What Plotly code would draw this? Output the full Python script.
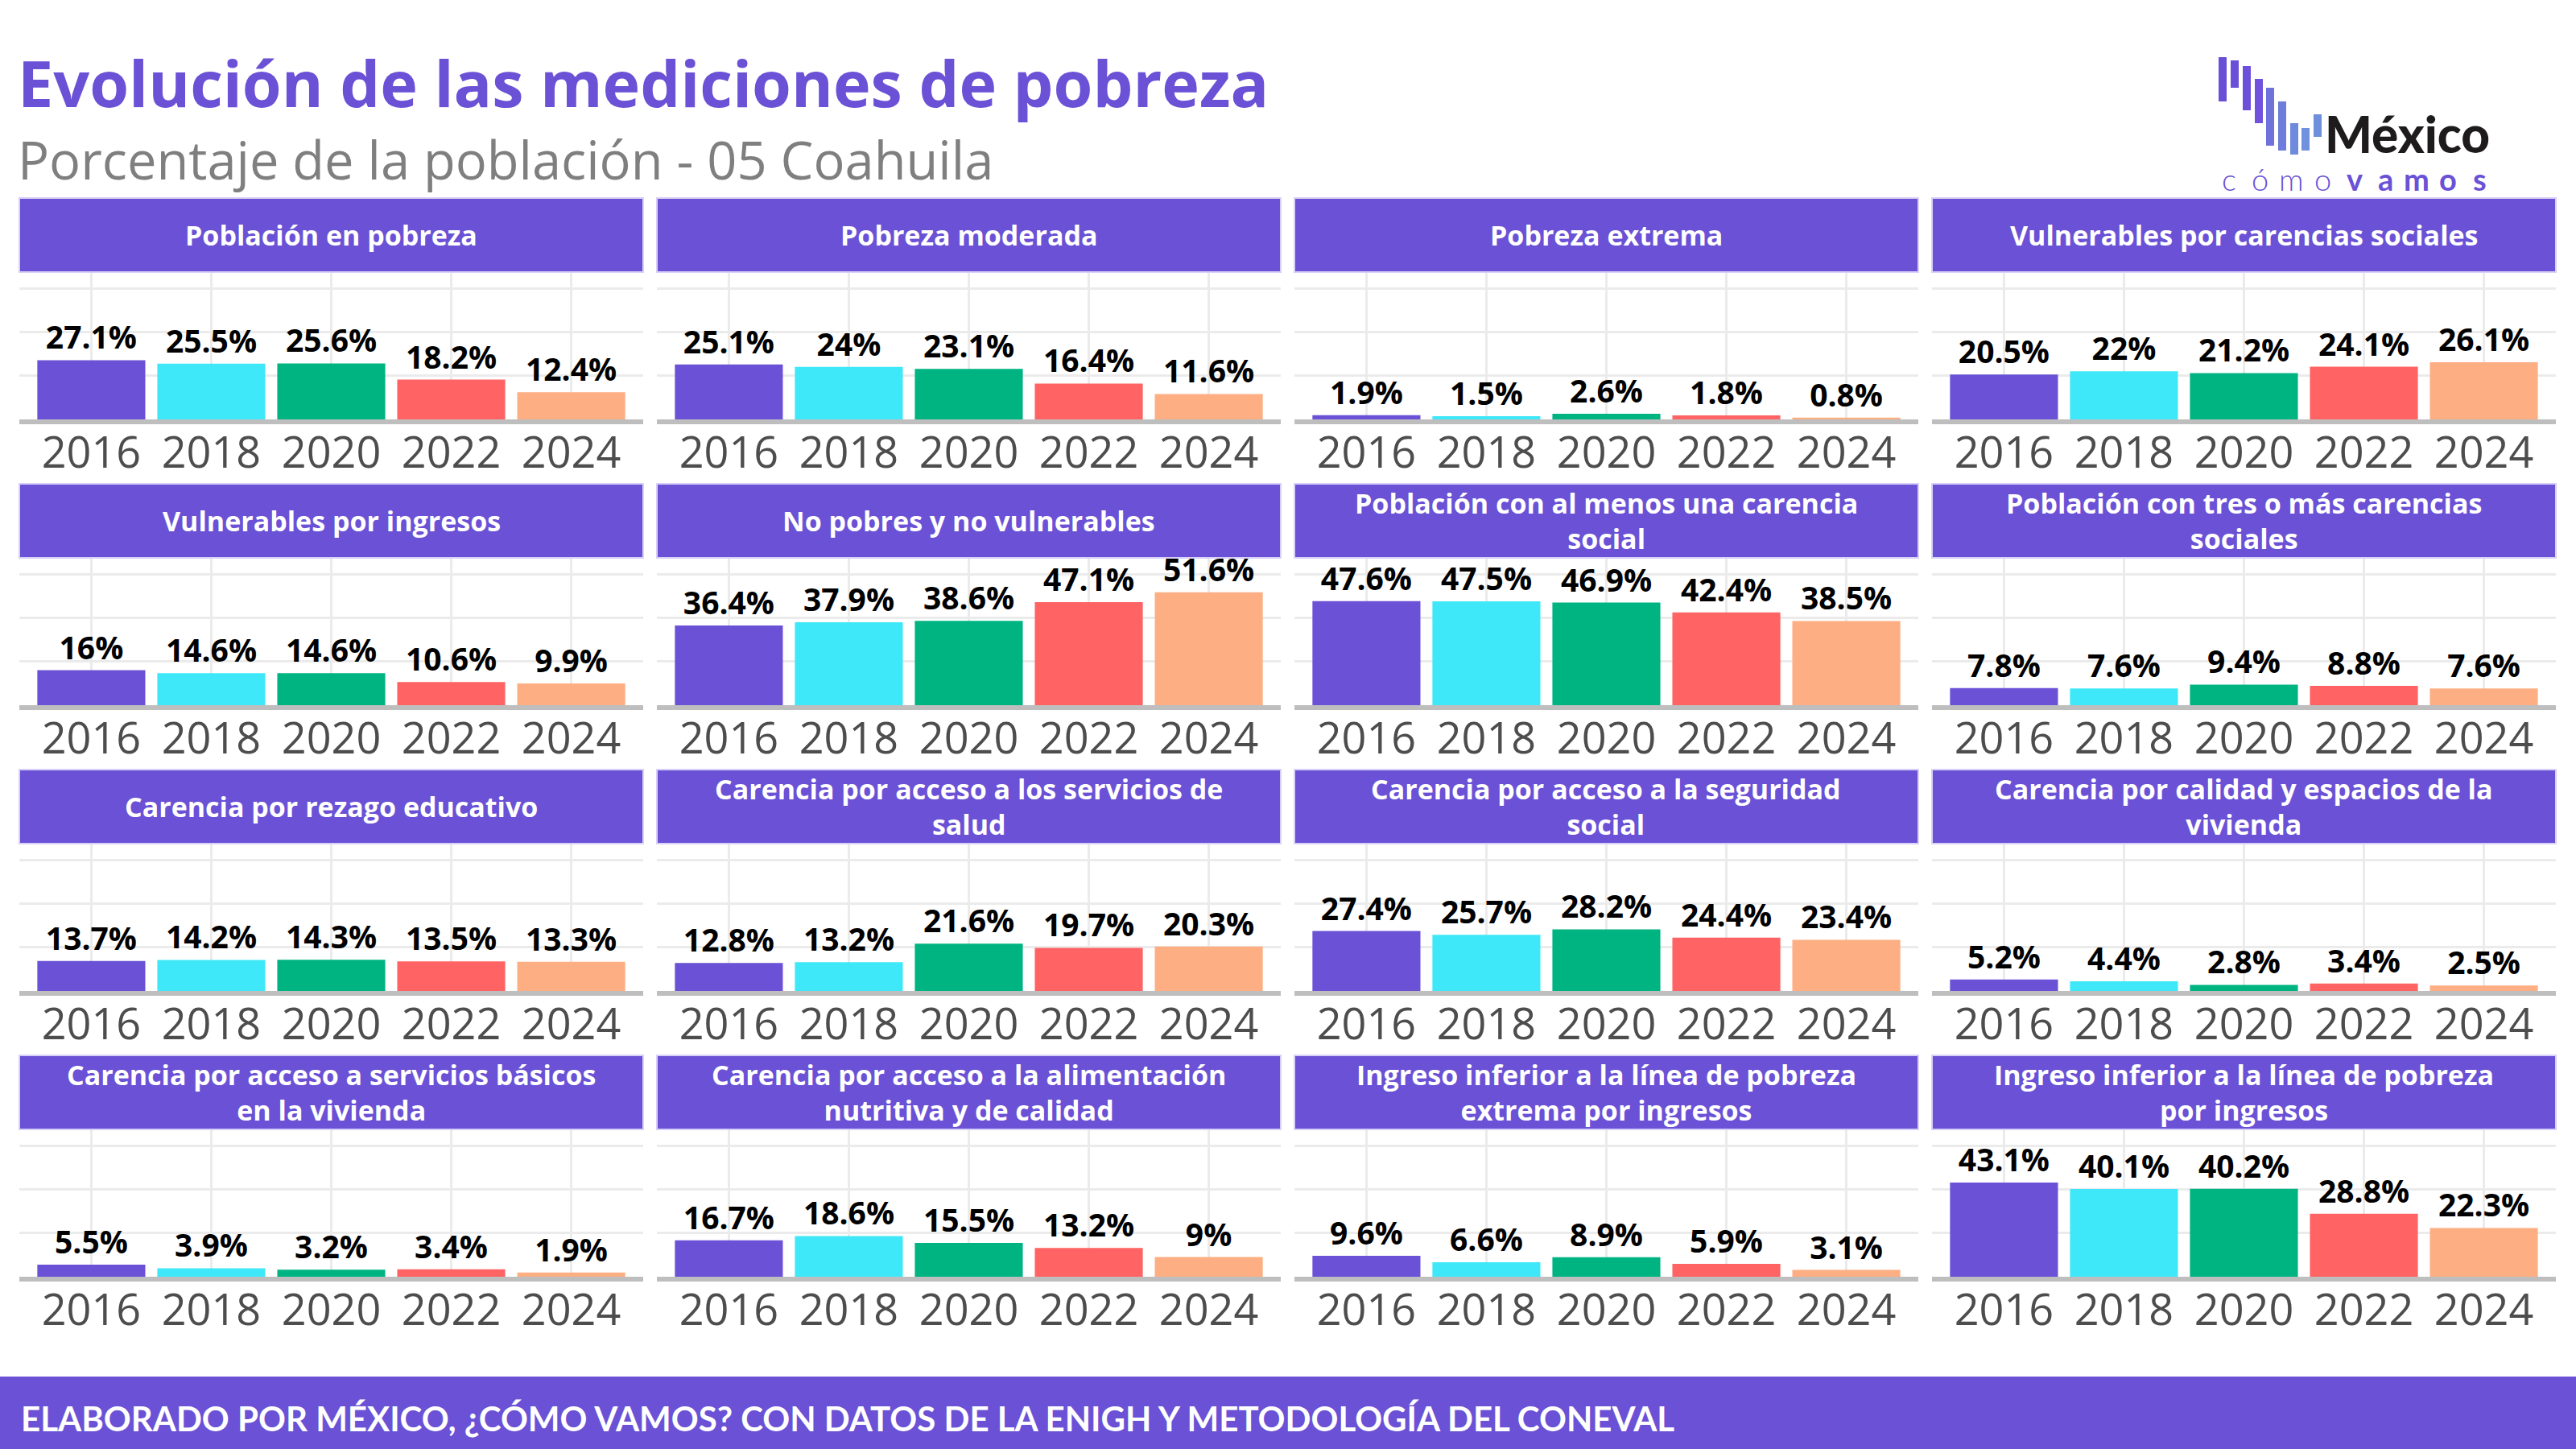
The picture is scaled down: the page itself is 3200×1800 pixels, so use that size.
import plotly.graph_objects as go

# ---------------- data ----------------
years = ["2016", "2018", "2020", "2022", "2024"]
titles = [
    "Población en pobreza",
    "Pobreza moderada",
    "Pobreza extrema",
    "Vulnerables por carencias sociales",
    "Vulnerables por ingresos",
    "No pobres y no vulnerables",
    "Población con al menos una carencia<br>social",
    "Población con tres o más carencias<br>sociales",
    "Carencia por rezago educativo",
    "Carencia por acceso a los servicios de<br>salud",
    "Carencia por acceso a la seguridad<br>social",
    "Carencia por calidad y espacios de la<br>vivienda",
    "Carencia por acceso a servicios básicos<br>en la vivienda",
    "Carencia por acceso a la alimentación<br>nutritiva y de calidad",
    "Ingreso inferior a la línea de pobreza<br>extrema por ingresos",
    "Ingreso inferior a la línea de pobreza<br>por ingresos",
]
poblacion_pobreza = [27.1, 25.5, 25.6, 18.2, 12.4]
pobreza_moderada = [25.1, 24, 23.1, 16.4, 11.6]
pobreza_extrema = [1.9, 1.5, 2.6, 1.8, 0.8]
vuln_carencias = [20.5, 22, 21.2, 24.1, 26.1]
vuln_ingresos = [16, 14.6, 14.6, 10.6, 9.9]
no_pobres = [36.4, 37.9, 38.6, 47.1, 51.6]
al_menos_una = [47.6, 47.5, 46.9, 42.4, 38.5]
tres_o_mas = [7.8, 7.6, 9.4, 8.8, 7.6]
rezago_educativo = [13.7, 14.2, 14.3, 13.5, 13.3]
servicios_salud = [12.8, 13.2, 21.6, 19.7, 20.3]
seguridad_social = [27.4, 25.7, 28.2, 24.4, 23.4]
calidad_vivienda = [5.2, 4.4, 2.8, 3.4, 2.5]
servicios_basicos = [5.5, 3.9, 3.2, 3.4, 1.9]
alimentacion = [16.7, 18.6, 15.5, 13.2, 9]
linea_extrema = [9.6, 6.6, 8.9, 5.9, 3.1]
linea_pobreza = [43.1, 40.1, 40.2, 28.8, 22.3]

series = [poblacion_pobreza, pobreza_moderada, pobreza_extrema, vuln_carencias,
          vuln_ingresos, no_pobres, al_menos_una, tres_o_mas,
          rezago_educativo, servicios_salud, seguridad_social, calidad_vivienda,
          servicios_basicos, alimentacion, linea_extrema, linea_pobreza]

bar_colors = ["#6A51D6", "#3FE8F8", "#00B482", "#FF6363", "#FDAE82"]
PURPLE = "#6A51D6"
FONT = "Open Sans"
FONT2 = "Lato"

W, H = 3200, 1800


def px(x):
    return x / W


def py(y):
    return 1 - y / H


fig = go.Figure()
shapes = []
annotations = []

col_x0 = 24
col_pitch = 792
panel_w = 775
row_pitch = 355
header_top0 = 246
header_bot0 = 338
plot_top0 = 339
zero0 = 521

for i, vals in enumerate(series):
    r, c = divmod(i, 4)
    n = i + 1
    x0 = col_x0 + c * col_pitch
    x1 = x0 + panel_w
    ht = header_top0 + r * row_pitch
    hb = header_bot0 + r * row_pitch
    pt = plot_top0 + r * row_pitch
    z = zero0 + r * row_pitch

    xa = "x" if n == 1 else f"x{n}"
    ya = "y" if n == 1 else f"y{n}"
    fig.add_trace(go.Bar(
        x=years, y=vals, xaxis=xa, yaxis=ya,
        marker=dict(color=bar_colors, line=dict(width=0)),
        text=[f"{v:g}%" for v in vals],
        textposition="outside",
        textfont=dict(family=FONT, size=39, color="#000000", weight="bold"),
        constraintext="none", cliponaxis=False, showlegend=False,
        hoverinfo="skip",
    ))
    fig.layout[f"xaxis{'' if n == 1 else n}"] = dict(
        domain=[px(x0), px(x1)], anchor=ya, type="category",
        range=[-0.6, 4.6], showgrid=True, gridcolor="#EBEBEB", gridwidth=3,
        showline=True, linecolor="#BEBEBE", linewidth=6, zeroline=False,
        ticks="", tickfont=dict(family=FONT, size=54, color="#4D4D4D"),
        ticklabelstandoff=-11, fixedrange=True,
    )
    fig.layout[f"yaxis{'' if n == 1 else n}"] = dict(
        domain=[py(z), py(pt)], anchor=xa, range=[0, 67],
        tickvals=[0, 20, 40, 60], showticklabels=False, showgrid=True,
        gridcolor="#EBEBEB", gridwidth=3, zeroline=False, showline=False,
        fixedrange=True,
    )
    shapes.append(dict(type="rect", xref="paper", yref="paper",
                       x0=px(x0), x1=px(x1), y0=py(hb), y1=py(ht),
                       fillcolor=PURPLE, line=dict(color="#D8D0F6", width=2),
                       layer="above"))
    annotations.append(dict(xref="paper", yref="paper", x=px((x0 + x1) / 2),
                            y=py((ht + hb) / 2), text=titles[i], showarrow=False,
                            xanchor="center", yanchor="middle",
                            font=dict(family=FONT, size=34, color="white", weight="bold")))

# Title and subtitle
annotations.append(dict(xref="paper", yref="paper", x=px(20), y=py(103),
                        text="Evolución de las mediciones de pobreza", showarrow=False,
                        xanchor="left", yanchor="middle",
                        font=dict(family=FONT, size=79, color=PURPLE, weight="bold")))
annotations.append(dict(xref="paper", yref="paper", x=px(20), y=py(198),
                        text="Porcentaje de la población - 05 Coahuila", showarrow=False,
                        xanchor="left", yanchor="middle",
                        font=dict(family=FONT, size=65, color="#7F7F7F")))

# Footer
shapes.append(dict(type="rect", xref="paper", yref="paper", x0=0, x1=1,
                   y0=0, y1=py(1710), fillcolor=PURPLE, line=dict(width=0)))
annotations.append(dict(xref="paper", yref="paper", x=px(24), y=py(1762),
                        text="ELABORADO POR MÉXICO, ¿CÓMO VAMOS? CON DATOS DE LA ENIGH Y METODOLOGÍA DEL CONEVAL",
                        showarrow=False, xanchor="left", yanchor="middle",
                        font=dict(family=FONT2, size=42, color="white", weight="bold")))

# Logo (decorative)
logo_bars = [(2756, 71, 126), (2771, 75, 109), (2786, 82, 137), (2801, 98, 153),
             (2815, 109, 181), (2830, 126, 187), (2845, 153, 192), (2859, 159, 187),
             (2874, 142, 170)]
logo_cols = ["#6A4FD6", "#6A4FD8", "#6D50DA", "#7052DC", "#6E72DA", "#6E7DDB",
             "#6E8ADD", "#6F91DE", "#6E8FDC"]
for (lx, ly0, ly1), lc in zip(logo_bars, logo_cols):
    shapes.append(dict(type="rect", xref="paper", yref="paper", x0=px(lx), x1=px(lx + 10),
                       y0=py(ly1), y1=py(ly0), fillcolor=lc, line=dict(width=0)))
annotations.append(dict(xref="paper", yref="paper", x=px(2886), y=py(166),
                        text="México", showarrow=False, xanchor="left", yanchor="middle",
                        font=dict(family=FONT2, size=62, color="#1E1B1C", weight=900)))
for k, ch in enumerate("cómovamos"):
    annotations.append(dict(xref="paper", yref="paper", x=px(2769 + k * 38.9), y=py(222),
                            text=ch, showarrow=False, xanchor="center", yanchor="middle",
                            font=dict(family=FONT2, size=38, color=PURPLE,
                                      weight=300 if k < 4 else "bold")))

fig.update_layout(
    width=W, height=H, margin=dict(l=0, r=0, t=0, b=0),
    paper_bgcolor="white", plot_bgcolor="white",
    bargap=0.1, shapes=shapes, annotations=annotations,
    font=dict(family=FONT),
)

fig.write_html("out.html")
